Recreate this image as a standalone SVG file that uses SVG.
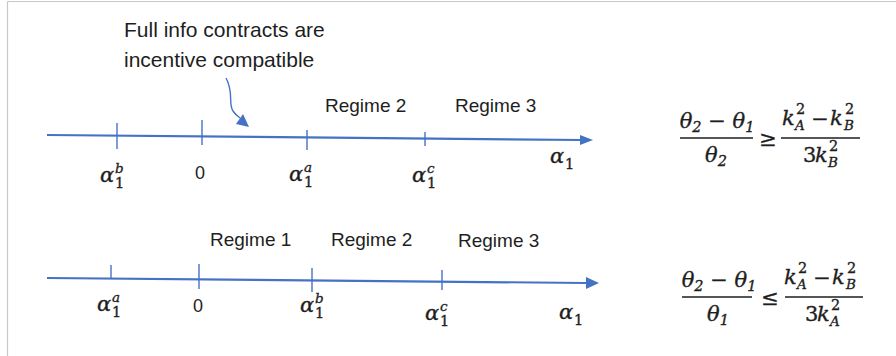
<svg xmlns="http://www.w3.org/2000/svg" width="896" height="356" viewBox="0 0 896 356">
<style>
.frame{stroke:#c8c8c8;stroke-width:1.2;fill:none}
.axis{stroke:#4472c4;stroke-width:2.2;fill:none}
.tick{stroke:#4472c4;stroke-width:1.4;fill:none}
.head{fill:#4472c4}
.t{font-family:"Liberation Sans",Arial,sans-serif;fill:#1e1e1e}
.lbl{font-size:19px}
.call{font-size:21px}
.zero{font-size:18px}
.m,.mu,.s,.si{font-family:"DejaVu Serif","Liberation Serif",serif;fill:#1e1e1e;stroke:#1e1e1e;stroke-width:0.35}
.m{font-style:italic;font-size:21px}
.mu{font-size:21px}
.s{font-size:14.5px}
.si{font-style:italic;font-size:13.5px}
.bar{stroke:#1e1e1e;stroke-width:1.4}
</style>
<rect width="896" height="356" fill="#ffffff"/>
<g id="frame">
<line class="frame" x1="7.5" y1="1.5" x2="896" y2="1.5"/>
<line class="frame" x1="7.5" y1="1.5" x2="7.5" y2="356"/>
</g>
<g id="callout">
<text class="t call" x="124" y="37">Full info contracts are</text>
<text class="t call" x="124" y="67">incentive compatible</text>
</g>
<g id="connectors">
<path class="tick" d="M226,78 C234,92 228,104 233,111 C235,114 237,116 240,118" stroke-width="1.5"/>
<polygon class="head" points="249,127 236,124 243,114"/>
</g>
<g id="axis-top">
<line class="axis" x1="47" y1="135" x2="582" y2="140"/>
<polygon class="head" points="593,140 580,135 580,145"/>
<line class="tick" x1="117" y1="123" x2="117" y2="149"/>
<line class="tick" x1="202" y1="120" x2="202" y2="145"/>
<line class="tick" x1="307" y1="130" x2="307" y2="150"/>
<line class="tick" x1="425" y1="132" x2="425" y2="146"/>
</g>
<g id="labels-top">
<text class="t lbl" x="325" y="112">Regime 2</text>
<text class="t lbl" x="455" y="112">Regime 3</text>
<text class="m" x="100" y="182">α</text><text class="s" x="115" y="188">1</text><text class="si" x="115" y="173">b</text>
<text class="t zero" x="200" y="179" text-anchor="middle">0</text>
<text class="m" x="289" y="181">α</text><text class="s" x="304" y="187">1</text><text class="si" x="304" y="172">a</text>
<text class="m" x="412" y="182">α</text><text class="s" x="427" y="188">1</text><text class="si" x="427" y="173">c</text>
<text class="m" x="550" y="163">α</text><text class="s" x="565" y="169">1</text>
</g>
<g id="formula-top">
<text class="m" x="717" y="128" text-anchor="middle">θ<tspan class="s" dy="4">2</tspan><tspan class="mu" dy="-4"> − </tspan>θ<tspan class="s" dy="4">1</tspan></text>
<line class="bar" x1="680" y1="138" x2="753" y2="138"/>
<text class="m" x="716" y="162" text-anchor="middle">θ<tspan class="s" dy="4">2</tspan></text>
<text class="mu" x="768" y="146" text-anchor="middle">≥</text>
<line class="bar" x1="781" y1="138" x2="860" y2="138"/>
<text class="m" x="782" y="125">k</text><text class="s" x="796" y="114">2</text><text class="si" x="795" y="130">A</text>
<text class="mu" x="820" y="126" text-anchor="middle">−</text>
<text class="m" x="830" y="125">k</text><text class="s" x="845" y="114">2</text><text class="si" x="844" y="130">B</text>
<text class="mu" x="803" y="162">3</text><text class="m" x="815" y="162">k</text><text class="s" x="829" y="151">2</text><text class="si" x="828" y="167">B</text>
</g>
<g id="axis-bottom">
<line class="axis" x1="47" y1="278" x2="587" y2="283"/>
<polygon class="head" points="599,283 586,277 586,289"/>
<line class="tick" x1="111" y1="265" x2="111" y2="279"/>
<line class="tick" x1="199" y1="264" x2="199" y2="289"/>
<line class="tick" x1="312" y1="268" x2="312" y2="292"/>
<line class="tick" x1="442" y1="270" x2="442" y2="290"/>
</g>
<g id="labels-bottom">
<text class="t lbl" x="210" y="246">Regime 1</text>
<text class="t lbl" x="331" y="246">Regime 2</text>
<text class="t lbl" x="458" y="247">Regime 3</text>
<text class="m" x="97" y="311">α</text><text class="s" x="112" y="317">1</text><text class="si" x="112" y="302">a</text>
<text class="t zero" x="198" y="312" text-anchor="middle">0</text>
<text class="m" x="300" y="312">α</text><text class="s" x="315" y="318">1</text><text class="si" x="315" y="303">b</text>
<text class="m" x="425" y="320">α</text><text class="s" x="440" y="326">1</text><text class="si" x="440" y="311">c</text>
<text class="m" x="559" y="319">α</text><text class="s" x="574" y="325">1</text>
</g>
<g id="formula-bottom" transform="translate(2,159)">
<text class="m" x="717" y="128" text-anchor="middle">θ<tspan class="s" dy="4">2</tspan><tspan class="mu" dy="-4"> − </tspan>θ<tspan class="s" dy="4">1</tspan></text>
<line class="bar" x1="680" y1="138" x2="750" y2="138"/>
<text class="m" x="716" y="162" text-anchor="middle">θ<tspan class="s" dy="4">1</tspan></text>
<text class="mu" x="768" y="146" text-anchor="middle">≤</text>
<line class="bar" x1="783" y1="138" x2="861" y2="138"/>
<text class="m" x="782" y="125">k</text><text class="s" x="796" y="114">2</text><text class="si" x="795" y="130">A</text>
<text class="mu" x="820" y="126" text-anchor="middle">−</text>
<text class="m" x="830" y="125">k</text><text class="s" x="845" y="114">2</text><text class="si" x="844" y="130">B</text>
<text class="mu" x="803" y="162">3</text><text class="m" x="815" y="162">k</text><text class="s" x="829" y="151">2</text><text class="si" x="828" y="167">A</text>
</g>
</svg>
